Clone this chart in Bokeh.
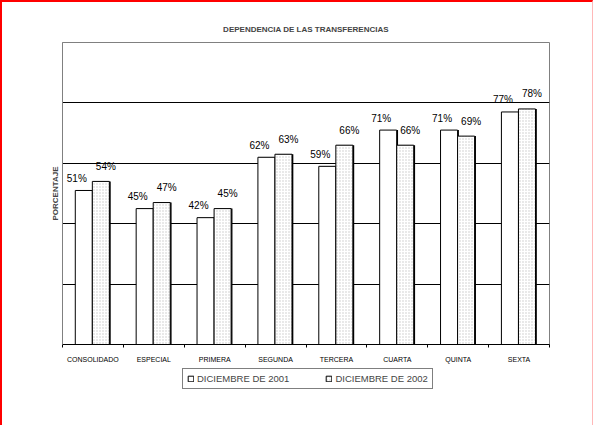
from bokeh.plotting import figure
from bokeh.layouts import column
from bokeh.models import ColumnDataSource, FixedTicker, Range1d, Legend, LegendItem
from bokeh.embed import file_html
from bokeh.resources import INLINE
from bokeh.core.properties import value

categories = ["CONSOLIDADO", "ESPECIAL", "PRIMERA", "SEGUNDA", "TERCERA", "CUARTA", "QUINTA", "SEXTA"]
dic_2001 = [51, 45, 42, 62, 59, 71, 71, 77]
dic_2002 = [54, 47, 45, 63, 66, 66, 69, 78]
series_names = ["DICIEMBRE DE 2001", "DICIEMBRE DE 2002"]
y_grid = [20, 40, 60, 80]

FONT = "Liberation Sans"
n = len(categories)
centers = [i + 0.5 for i in range(n)]
w = 0.28

src = ColumnDataSource(dict(
    x1=[c - 0.15 for c in centers], x2=[c + 0.13 for c in centers],
    s1=[c - 0.15 + 0.022 for c in centers], s2=[c + 0.13 + 0.022 for c in centers],
    v1=dic_2001, v2=dic_2002,
    t1=[f"{v}%" for v in dic_2001], t2=[f"{v}%" for v in dic_2002],
))

bar1_style = dict(fill_color="white", line_color="black", line_width=1)
bar2_style = dict(fill_color="white", line_color="black", line_width=1, hatch_pattern="dot",
                  hatch_color="#c8c8c8", hatch_scale=3, hatch_weight=1)

p = figure(width=590, height=363, output_backend="svg", toolbar_location=None,
           x_range=Range1d(0, n), y_range=Range1d(0, 100),
           min_border_left=60, min_border_right=43, min_border_top=40, min_border_bottom=20,
           title="DEPENDENCIA DE LAS TRANSFERENCIAS")
p.title.align = "center"
p.title.text_font = FONT
p.title.text_font_size = "8px"
p.title.text_font_style = "bold"
p.title.standoff = 17

p.outline_line_color = "#808080"
p.outline_line_width = 1
p.background_fill_color = "white"
p.border_fill_color = "white"

# grid
p.xgrid.visible = False
p.ygrid.ticker = FixedTicker(ticks=y_grid)
p.ygrid.grid_line_color = "black"
p.ygrid.grid_line_width = 1

# x axis
p.xaxis.ticker = FixedTicker(ticks=centers, minor_ticks=list(range(n + 1)))
p.xaxis.major_label_overrides = {c: lab for c, lab in zip(centers, categories)}
p.xaxis.major_tick_line_color = None
p.xaxis.minor_tick_line_color = "black"
p.xaxis.minor_tick_out = 3
p.xaxis.minor_tick_in = 0
p.xaxis.axis_line_color = "black"
p.xaxis.major_label_text_font = FONT
p.xaxis.major_label_text_font_size = "7px"
p.xaxis.major_label_text_color = "black"
p.xaxis.major_label_standoff = 5

# y axis
p.yaxis.ticker = FixedTicker(ticks=[])
p.yaxis.axis_line_color = "#808080"
p.yaxis.major_tick_line_color = None
p.yaxis.minor_tick_line_color = None
p.yaxis.axis_label = "PORCENTAJE"
p.yaxis.axis_label_text_font = FONT
p.yaxis.axis_label_text_font_size = "8px"
p.yaxis.axis_label_text_font_style = "bold"
p.yaxis.axis_label_standoff = 3

# shadows
p.vbar(x="s1", top="v1", bottom=0, width=w, source=src, fill_color="black", line_color=None)
p.vbar(x="s2", top="v2", bottom=0, width=w, source=src, fill_color="black", line_color=None)
# bars
p.vbar(x="x1", top="v1", bottom=0, width=w, source=src, **bar1_style)
p.vbar(x="x2", top="v2", bottom=0, width=w, source=src, **bar2_style)

# labels
p.text(x="x1", y="v1", text="t1", source=src, text_font=value(FONT), text_font_size="10px",
       text_align="center", text_baseline="middle", x_offset=-7, y_offset=-12, text_color="black")
p.text(x="x2", y="v2", text="t2", source=src, text_font=value(FONT), text_font_size="10px",
       text_align="center", text_baseline="middle", x_offset=5, y_offset=-15, text_color="black")

# legend in a strip below the chart
p2 = figure(width=590, height=60, output_backend="svg", toolbar_location=None,
            x_range=Range1d(0, 1), y_range=Range1d(0, 1),
            x_axis_location=None, y_axis_location=None,
            min_border=0, outline_line_color=None)
p2.grid.visible = False
p2.border_fill_color = "white"
dummy = ColumnDataSource(dict(x=[-10], top=[0]))
l1 = p2.vbar(x="x", top="top", width=0.1, source=dummy, **bar1_style)
l2 = p2.vbar(x="x", top="top", width=0.1, source=dummy, **bar2_style)

legend = Legend(items=[LegendItem(label=series_names[0], renderers=[l1]),
                       LegendItem(label=series_names[1], renderers=[l2])],
                orientation="horizontal", location=(120, 36))
legend.label_text_font = FONT
legend.label_text_font_size = "9.5px"
legend.label_height = 8
legend.glyph_width = 7
legend.glyph_height = 7
legend.label_standoff = 3
legend.padding = 4
legend.spacing = 36
legend.margin = 0
legend.border_line_color = "black"
legend.border_line_width = 1.5
legend.background_fill_color = "white"
legend.background_fill_alpha = 1
p2.add_layout(legend, "center")

layout = column(p, p2, spacing=0)
layout.styles = {"border-left": "2px solid #ff0000", "border-top": "2px solid #ff0000",
                 "border-right": "1px solid #ffb8b8"}

open("out.html", "w").write(file_html(layout, INLINE))
